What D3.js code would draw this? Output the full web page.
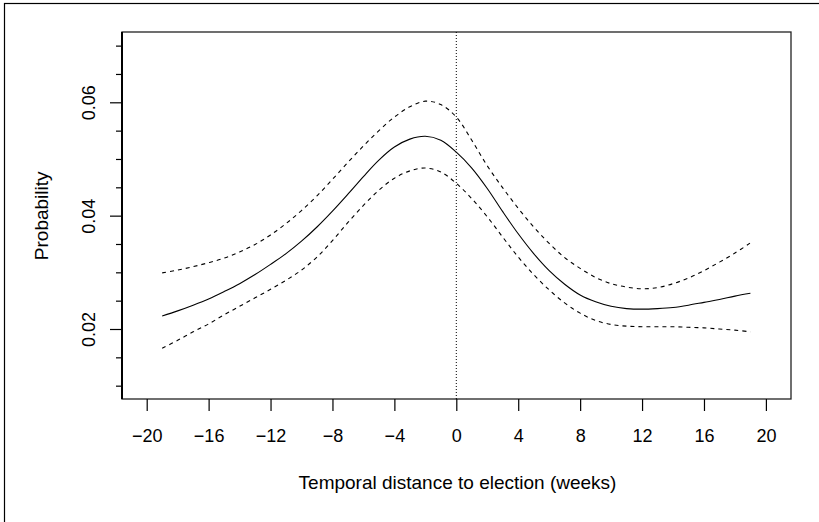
<!DOCTYPE html>
<html>
<head>
<meta charset="utf-8">
<script src="https://cdn.jsdelivr.net/npm/d3@7"></script>
<style>
  html, body { margin: 0; padding: 0; background: #fff; }
  svg { display: block; }
  text { font-family: "Liberation Sans", Arial, sans-serif; fill: #000; }
</style>
</head>
<body>
<svg id="chart" width="819" height="522"></svg>
<script>
// ---- data ----
const weeks = [-19,-18,-17,-16,-15,-14,-13,-12,-11,-10,-9,-8,-7,-6,-5,-4,-3,-2,-1,0,
               1,2,3,4,5,6,7,8,9,10,11,12,13,14,15,16,17,18,19];
const estimate = [0.0223,0.0232,0.0242,0.0253,0.0266,0.0280,0.0296,0.0314,0.0333,0.0355,
                  0.0380,0.0408,0.0438,0.0469,0.0498,0.0521,0.0535,0.0540,0.0533,0.0512,
                  0.0484,0.0448,0.0407,0.0368,0.0333,0.0303,0.0279,0.0260,0.0248,0.0240,
                  0.0236,0.0235,0.0236,0.0238,0.0242,0.0247,0.0252,0.0258,0.0263];
const upper = [0.0299,0.0304,0.0310,0.0317,0.0325,0.0336,0.0349,0.0366,0.0386,0.0409,
               0.0435,0.0464,0.0494,0.0523,0.0550,0.0574,0.0592,0.0602,0.0596,0.0574,
               0.0533,0.0488,0.0449,0.0413,0.0380,0.0351,0.0326,0.0307,0.0291,0.0280,
               0.0274,0.0271,0.0273,0.0280,0.0290,0.0303,0.0318,0.0334,0.0352];
const lower = [0.0166,0.0180,0.0195,0.0209,0.0225,0.0240,0.0255,0.0270,0.0286,0.0304,
               0.0327,0.0356,0.0388,0.0418,0.0445,0.0466,0.0479,0.0484,0.0477,0.0457,
               0.0430,0.0398,0.0362,0.0327,0.0296,0.0269,0.0246,0.0228,0.0215,0.0208,
               0.0205,0.0204,0.0204,0.0204,0.0203,0.0202,0.0200,0.0198,0.0195];
const xTicks = [-20,-16,-12,-8,-4,0,4,8,12,16,20];
const yMajorTicks = [0.02,0.04,0.06];
const yMinorTicks = [0.01,0.015,0.025,0.03,0.035,0.045,0.05,0.055,0.065,0.07];
const xTitle = "Temporal distance to election (weeks)";
const yTitle = "Probability";

// ---- layout ----
const box = {left: 122, top: 32, right: 791, bottom: 399};
const svg = d3.select("#chart");

const x = d3.scaleLinear().domain([-20, 20]).range([146.7, 765.9]);
const y = d3.scaleLinear().domain([0.02, 0.06]).range([329, 102.3]);

// outer frame (extends beyond right/bottom of the picture)
svg.append("rect")
  .attr("x", 4.5).attr("y", 3.5)
  .attr("width", 900).attr("height", 600)
  .attr("fill", "none").attr("stroke", "#000").attr("stroke-width", 1.2);

// plot box
svg.append("rect")
  .attr("x", box.left).attr("y", box.top)
  .attr("width", box.right - box.left).attr("height", box.bottom - box.top)
  .attr("fill", "none").attr("stroke", "#222").attr("stroke-width", 1.3);
svg.append("line")
  .attr("x1", box.left).attr("x2", box.left)
  .attr("y1", box.top).attr("y2", box.bottom)
  .attr("stroke", "#000").attr("stroke-width", 2);

function styleAxis(g) {
  g.select(".domain").remove();
  g.selectAll(".tick line").attr("stroke", "#000").attr("stroke-width", 1.2);
  g.selectAll(".tick text").attr("font-size", 18).attr("fill", "#000")
    .attr("font-family", "'Liberation Sans', Arial, sans-serif");
}

// x axis
const xAxis = d3.axisBottom(x)
  .tickValues(xTicks)
  .tickSize(12)
  .tickPadding(0)
  .tickFormat(d => d < 0 ? "\u2212" + Math.abs(d) : String(d));
const gx = svg.append("g").attr("transform", `translate(0,${box.bottom})`).call(xAxis);
styleAxis(gx);
gx.selectAll(".tick text").attr("dy", null).attr("y", 42.5);

// y axis: minor ticks
const yMinor = d3.axisLeft(y).tickValues(yMinorTicks).tickSize(6).tickFormat("");
const gym = svg.append("g").attr("transform", `translate(${box.left},0)`).call(yMinor);
styleAxis(gym);

// y axis: major ticks with rotated labels
const yMajor = d3.axisLeft(y).tickValues(yMajorTicks).tickSize(12).tickFormat(d3.format(".2f"));
const gy = svg.append("g").attr("transform", `translate(${box.left},0)`).call(yMajor);
styleAxis(gy);
gy.selectAll(".tick text")
  .attr("x", null).attr("dy", null).attr("y", null)
  .attr("text-anchor", "middle")
  .attr("transform", "translate(-27,0) rotate(-90)");

// dotted vertical line at election
svg.append("line")
  .attr("x1", x(0)).attr("x2", x(0))
  .attr("y1", box.top).attr("y2", box.bottom)
  .attr("stroke", "#000").attr("stroke-width", 1)
  .attr("stroke-dasharray", "1,2");

// lines
const pts = arr => weeks.map((w, i) => [w, arr[i]]);
const line = d3.line().x(d => x(d[0])).y(d => y(d[1])).curve(d3.curveCatmullRom);

svg.append("path").datum(pts(upper))
  .attr("d", line).attr("fill", "none").attr("stroke", "#000")
  .attr("stroke-width", 1.1).attr("stroke-dasharray", "4,4");
svg.append("path").datum(pts(lower))
  .attr("d", line).attr("fill", "none").attr("stroke", "#000")
  .attr("stroke-width", 1.1).attr("stroke-dasharray", "4,4");
svg.append("path").datum(pts(estimate))
  .attr("d", line).attr("fill", "none").attr("stroke", "#000")
  .attr("stroke-width", 1.1);

// titles
svg.append("text")
  .attr("x", 457.5).attr("y", 489.3)
  .attr("text-anchor", "middle").attr("font-size", 19)
  .text(xTitle);
svg.append("text")
  .attr("transform", "translate(48.3,215.8) rotate(-90)")
  .attr("text-anchor", "middle").attr("font-size", 19)
  .text(yTitle);
</script>
</body>
</html>
